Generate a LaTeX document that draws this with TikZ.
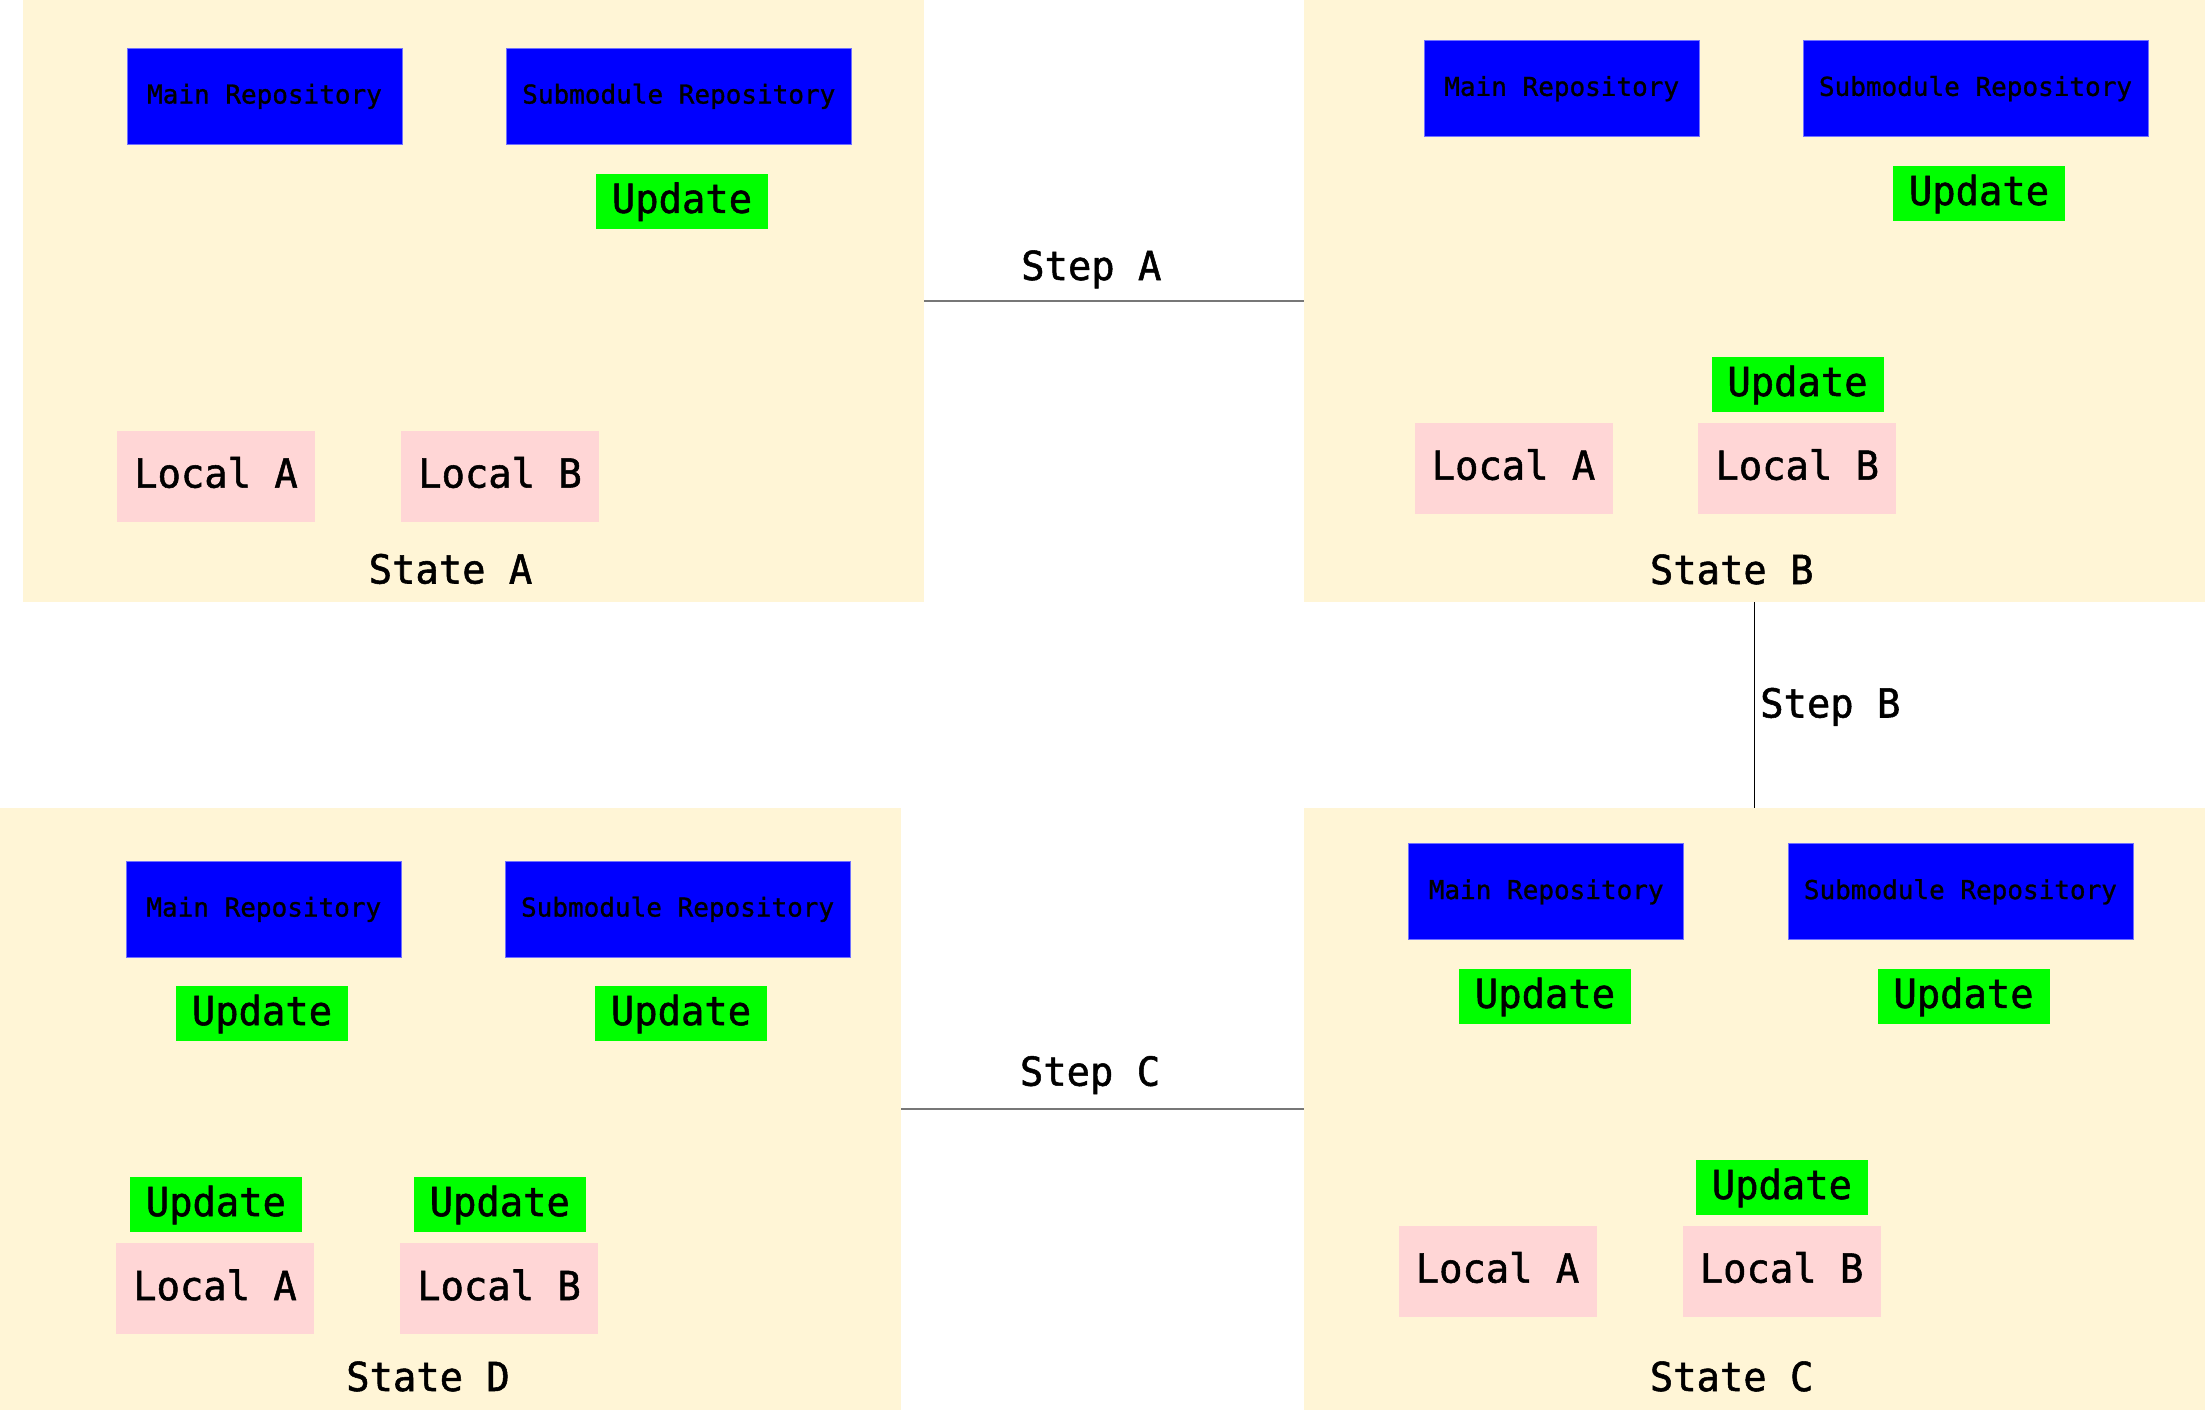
\documentclass[tikz,border=0pt]{standalone}
\usepackage{fontspec}
\newfontfamily\monof[FakeBold=1.1]{DejaVu Sans Mono}
\newfontfamily\monobig[FakeBold=1.3, FakeStretch=0.97]{DejaVu Sans Mono}
\definecolor{cream}{HTML}{FFF5D6}
\definecolor{pinkbox}{HTML}{FFD6D6}
\definecolor{bluebox}{HTML}{0000FF}
\definecolor{blueedge}{HTML}{7070FF}
\definecolor{greenbox}{HTML}{00FF00}
\definecolor{linkgray}{HTML}{777777}
\tikzset{
  panel/.style={fill=cream, draw=none, inner sep=0pt, minimum width=901pt, minimum height=602pt},
  repobox/.style={fill=bluebox, draw=blueedge, line width=0.8pt, inner sep=0pt, minimum height=96pt,
    font=\monof\fontsize{26}{30}\selectfont, text height=20.8pt, text depth=5.7pt},
  mainrepo/.style={repobox, minimum width=275pt},
  subrepo/.style={repobox, minimum width=345pt},
  updbox/.style={fill=greenbox, draw=none, inner sep=0pt, minimum width=172pt, minimum height=55pt,
    font=\monobig\fontsize{40}{46}\selectfont, text height=32pt, text depth=8.8pt},
  localbox/.style={fill=pinkbox, draw=none, inner sep=0pt, minimum width=198pt, minimum height=91pt,
    font=\monobig\fontsize{40}{46}\selectfont, text height=32pt, text depth=8.8pt},
  biglabel/.style={inner sep=0pt, font=\monobig\fontsize{40}{46}\selectfont},
  steplinkac/.style={draw=linkgray, line width=1.6pt},
  steplinkb/.style={draw=black, line width=1.2pt},
}
\begin{document}
\begin{tikzpicture}[x=1pt, y=-1pt]
\useasboundingbox (0,0) rectangle (2205,1410);
% panels
\node[panel] (pA) at (473.5,301) {};
\node[panel] (pB) at (1754.5,301) {};
\node[panel] (pC) at (1754.5,1109) {};
\node[panel, minimum width=900.5pt] (pD) at (450.25,1109) {};
% connectors
\draw[steplinkac] (pA.east) -- (pB.west);
\draw[steplinkb] (pB.south) -- (pC.north);
\draw[steplinkac] (pC.west) -- (pD.east);
\node[biglabel, anchor=base] (stepA) at (1091.3,280) {Step A};
\node[biglabel, anchor=base west] (stepB) at (1760,717.5) {Step B};
\node[biglabel, anchor=base] (stepC) at (1090,1085.7) {Step C};
% State A
\node[mainrepo] (mainA) at (264.5,96) {Main Repository};
\node[subrepo] (subA) at (678.8,96) {Submodule Repository};
\node[updbox] (updA) at (682,201.3) {Update};
\node[localbox] (locAA) at (216,476) {Local A};
\node[localbox] (locAB) at (500,476) {Local B};
\node[biglabel, anchor=base] (stA) at (450.5,583.5) {State A};
% State B
\node[mainrepo] (mainB) at (1561.7,88.3) {Main Repository};
\node[subrepo] (subB) at (1975.5,88.3) {Submodule Repository};
\node[updbox] (updB1) at (1979,193.4) {Update};
\node[updbox] (updB2) at (1797.5,384.4) {Update};
\node[localbox] (locBA) at (1513.5,468.1) {Local A};
\node[localbox] (locBB) at (1797.2,468.1) {Local B};
\node[biglabel, anchor=base] (stB) at (1731.7,584) {State B};
% State C
\node[mainrepo] (mainC) at (1546.2,891.5) {Main Repository};
\node[subrepo] (subC) at (1960.4,891.5) {Submodule Repository};
\node[updbox] (updC1) at (1545,996.3) {Update};
\node[updbox] (updC2) at (1963.5,996.3) {Update};
\node[updbox] (updC3) at (1781.9,1187.4) {Update};
\node[localbox] (locCA) at (1497.5,1271) {Local A};
\node[localbox] (locCB) at (1781.6,1271) {Local B};
\node[biglabel, anchor=base] (stC) at (1731.6,1391) {State C};
% State D
\node[mainrepo] (mainD) at (263.8,909) {Main Repository};
\node[subrepo] (subD) at (677.6,909) {Submodule Repository};
\node[updbox] (updD1) at (262,1013.5) {Update};
\node[updbox] (updD2) at (681,1013.5) {Update};
\node[updbox] (updD3) at (215.9,1204.5) {Update};
\node[updbox] (updD4) at (499.8,1204.5) {Update};
\node[localbox] (locDA) at (215,1288.5) {Local A};
\node[localbox] (locDB) at (499,1288.5) {Local B};
\node[biglabel, anchor=base] (stD) at (428,1391) {State D};
\end{tikzpicture}
\end{document}
